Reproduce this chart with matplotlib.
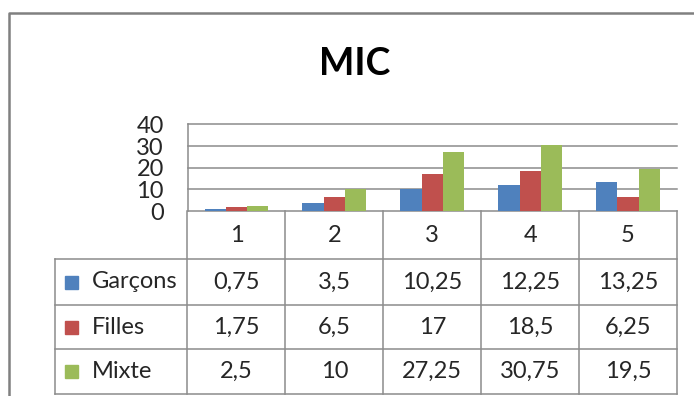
import matplotlib.pyplot as plt
from matplotlib.lines import Line2D
from matplotlib.patches import Rectangle

# ---------------------------------------------------------
# data
# ---------------------------------------------------------
categories = ["1", "2", "3", "4", "5"]
series_names = ["Garçons", "Filles", "Mixte"]
garcons = [0.75, 3.5, 10.25, 12.25, 13.25]
filles = [1.75, 6.5, 17, 18.5, 6.25]
mixte = [2.5, 10, 27.25, 30.75, 19.5]
y_ticks = [0, 10, 20, 30, 40]

COLORS = ["#4F81BD", "#C0504D", "#9BBB59"]
GRID = "#8c8c8c"
TEXT = "#262626"
FONT = "Lato"
FS = 17

W, H = 694, 396
plt.rcParams["font.family"] = [FONT, "DejaVu Sans"]

fig = plt.figure(figsize=(W / 100, H / 100), dpi=100)
fig.patch.set_facecolor("white")

# pixel layout of the plot area and table
plot_left, plot_right = 187.5, 677
plot_top, plot_zero = 124.5, 211
legend_left = 55
row_edges = [211, 259, 305, 349, 394]

def fx(px):
    return px / W

def fy(py):
    return 1 - py / H

# ---------------------------------------------------------
# bar chart
# ---------------------------------------------------------
ax = fig.add_axes([fx(plot_left), fy(plot_zero),
                   fx(plot_right) - fx(plot_left), fy(plot_top) - fy(plot_zero)])
n = len(categories)
bar_w = 0.217
for i, values in enumerate([garcons, filles, mixte]):
    xs = [k + (i - 1) * bar_w for k in range(n)]
    ax.bar(xs, values, width=bar_w, color=COLORS[i], zorder=3)

ax.set_xlim(-0.5, n - 0.5)
ax.set_ylim(y_ticks[0], y_ticks[-1])
ax.set_yticks(y_ticks)
ax.set_yticklabels([str(t) for t in y_ticks], fontsize=FS, color=TEXT)
ax.tick_params(axis="y", length=0, pad=17)
ax.set_xticks([])
for t in y_ticks:
    ax.axhline(t, color=GRID, lw=1.1, zorder=1, clip_on=False)
for side in ["top", "right", "bottom"]:
    ax.spines[side].set_visible(False)
ax.spines["left"].set_color(GRID)
ax.spines["left"].set_linewidth(1.1)
ax.set_facecolor("none")

# ---------------------------------------------------------
# overlay in pixel coordinates: frame, title, data table
# ---------------------------------------------------------
ov = fig.add_axes([0, 0, 1, 1], zorder=5)
ov.set_xlim(0, W)
ov.set_ylim(H, 0)
ov.axis("off")
ov.patch.set_alpha(0)

# outer chart frame
ov.add_line(Line2D([9.5, 9.5, W], [H, 12.5, 12.5], color="#808080", lw=1.8))

ov.text(355, 64, "MIC", ha="center", va="center", fontsize=27,
        fontweight="bold", color="black")

col_w = (plot_right - plot_left) / n
col_edges = [plot_left + k * col_w for k in range(n + 1)]

# table grid
for yy in row_edges[1:]:
    ov.add_line(Line2D([legend_left, plot_right], [yy, yy], color=GRID, lw=1.1))
for xx in col_edges:
    ov.add_line(Line2D([xx, xx], [row_edges[0], row_edges[-1]], color=GRID, lw=1.1))
ov.add_line(Line2D([legend_left, legend_left], [row_edges[1], row_edges[-1]],
                   color=GRID, lw=1.1))

def fmt(v):
    return f"{v:g}".replace(".", ",")

# header row with the categories
y_mid = (row_edges[0] + row_edges[1]) / 2
for k, cat in enumerate(categories):
    ov.text(col_edges[k] + col_w / 2, y_mid, cat, ha="center", va="center",
            fontsize=FS, color=TEXT)

# one row per series with its legend key
for i, (name, values) in enumerate(zip(series_names, [garcons, filles, mixte])):
    y_mid = (row_edges[i + 1] + row_edges[i + 2]) / 2
    ov.add_patch(Rectangle((65, y_mid - 6.5), 13, 13, color=COLORS[i]))
    ov.text(92, y_mid, name, ha="left", va="center", fontsize=FS, color=TEXT)
    for k, v in enumerate(values):
        ov.text(col_edges[k] + col_w / 2, y_mid, fmt(v), ha="center",
                va="center", fontsize=FS, color=TEXT)

fig.savefig("out.png", dpi=100, facecolor="white")
